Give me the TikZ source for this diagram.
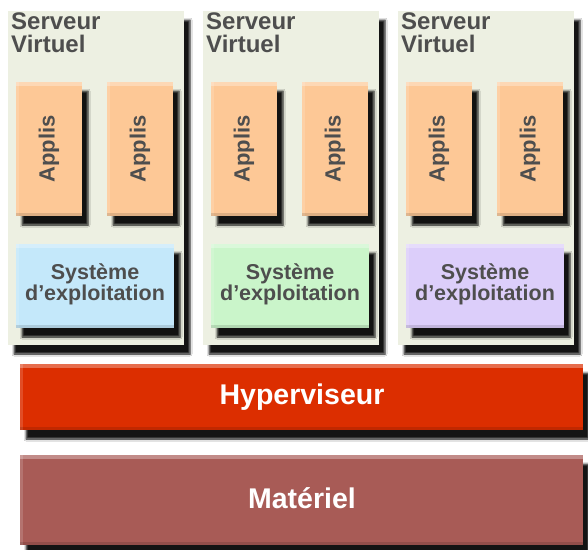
\documentclass[tikz,border=0pt]{standalone}
\usepackage{fontspec}
\setmainfont{Liberation Sans}
\usetikzlibrary{shadows.blur}

\definecolor{srvfill}{RGB}{237,240,226}
\definecolor{appfill}{RGB}{253,200,150}
\definecolor{osblue}{RGB}{196,232,250}
\definecolor{osgreen}{RGB}{202,245,202}
\definecolor{ospurple}{RGB}{220,206,250}
\definecolor{hyperred}{RGB}{220,46,0}
\definecolor{hwbrown}{RGB}{168,91,86}
\definecolor{txtgray}{RGB}{78,78,78}

\begin{document}
\begin{tikzpicture}[x=1pt,y=-1pt,
  dropsh/.style={blur shadow={shadow xshift=6pt,shadow yshift=-9pt,
      shadow blur radius=2pt,shadow blur steps=5,shadow opacity=92}},
  bevel/.style={path picture={
      \fill[white,opacity=0.30] (path picture bounding box.north west)
        rectangle ([yshift=-4pt]path picture bounding box.north east);
      \fill[white,opacity=0.15] (path picture bounding box.north west)
        rectangle ([xshift=3pt]path picture bounding box.south west);
      \fill[black,opacity=0.12] ([yshift=3pt]path picture bounding box.south west)
        rectangle (path picture bounding box.south east);}},
  boxbase/.style={rectangle,draw=none,inner sep=0pt,outer sep=0pt,anchor=north west},
  srvbox/.style={boxbase,fill=srvfill,dropsh,minimum width=176pt,minimum height=334pt},
  appbox/.style={boxbase,fill=appfill,dropsh,bevel,minimum width=66pt,minimum height=134pt},
  osbox/.style={boxbase,dropsh,bevel,minimum width=158pt,minimum height=84pt},
  barbox/.style={boxbase,dropsh,bevel,minimum width=563pt},
  srvtext/.style={anchor=base west,inner sep=0pt,text=txtgray,
      font=\bfseries\fontsize{24}{24}\selectfont},
  apptext/.style={rotate=90,inner sep=0pt,text=txtgray,
      font=\bfseries\fontsize{22}{22}\selectfont},
  ostext/.style={align=center,inner sep=0pt,text=txtgray,
      font=\bfseries\fontsize{21.5}{18.5}\selectfont},
  bartext/.style={anchor=base,inner sep=0pt,text=white,
      font=\bfseries\fontsize{28.5}{28.5}\selectfont}]

\useasboundingbox (0,0) rectangle (588,549);
\fill[white] (0,0) rectangle (588,549);

% three virtual servers, each with two applications and an OS
\foreach \i/\L/\oscol in {1/8/osblue,2/203/osgreen,3/398/ospurple}{
  \node[srvbox] (srv\i) at (\L,11) {};
  \node[srvtext] (srv\i-t1) at (\L+3,29) {Serveur};
  \node[srvtext] (srv\i-t2) at (\L+3,52) {Virtuel};
  \node[appbox] (app\i a) at (\L+8,82) {};
  \node[apptext] (app\i a-t) at (app\i a.center) {Applis};
  \node[appbox] (app\i b) at (\L+99,82) {};
  \node[apptext] (app\i b-t) at (app\i b.center) {Applis};
  \node[osbox,fill=\oscol] (os\i) at (\L+8,244) {};
  \node[ostext] (os\i-t) at ([yshift=2pt]os\i.center) {Système\\d’exploitation};
}

% hypervisor and hardware layers
\node[barbox,fill=hyperred,minimum height=66pt] (hyper) at (20,364) {};
\node[bartext] (hyper-t) at (302,404) {Hyperviseur};
\node[barbox,fill=hwbrown,minimum height=90pt] (hw) at (20,455) {};
\node[bartext] (hw-t) at (302,508) {Matériel};
\end{tikzpicture}
\end{document}
